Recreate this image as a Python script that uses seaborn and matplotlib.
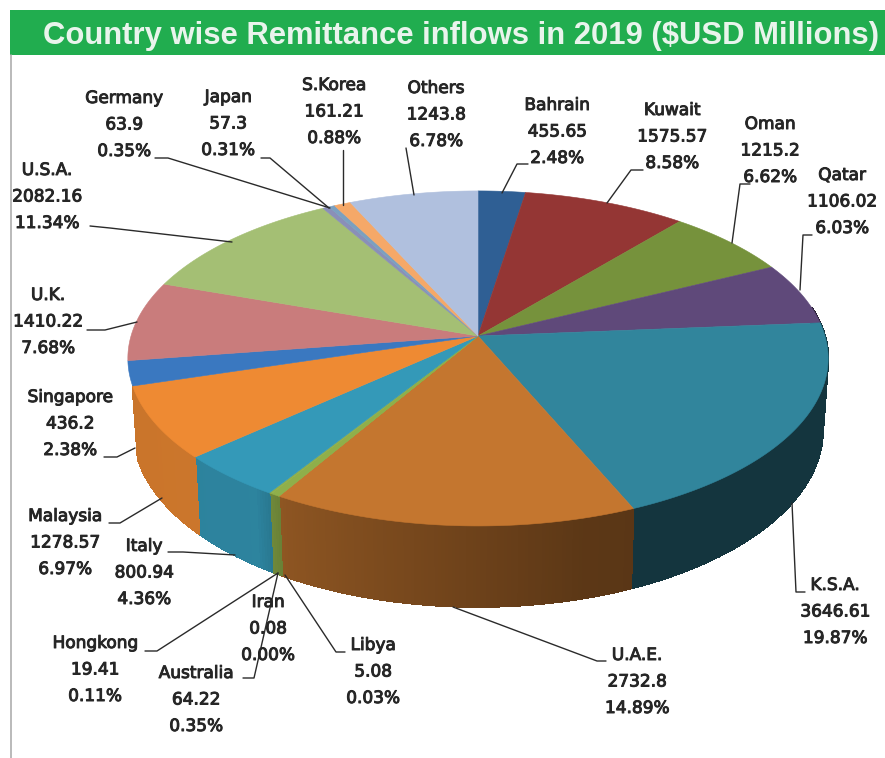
import numpy as np
import pandas as pd
import seaborn as sns
import matplotlib
matplotlib.use("Agg")
import matplotlib.pyplot as plt
import matplotlib.patheffects as pe
from matplotlib.patches import Polygon, Rectangle

countries = ["Bahrain", "Kuwait", "Oman", "Qatar", "K.S.A.", "U.A.E.", "Libya", "Iran",
             "Australia", "Hongkong", "Italy", "Malaysia", "Singapore", "U.K.", "U.S.A.",
             "Germany", "Japan", "S.Korea", "Others"]
values = [455.65, 1575.57, 1215.2, 1106.02, 3646.61, 2732.8, 5.08, 0.08,
          64.22, 19.41, 800.94, 1278.57, 436.2, 1410.22, 2082.16,
          63.9, 57.3, 161.21, 1243.8]
percents = [2.48, 8.58, 6.62, 6.03, 19.87, 14.89, 0.03, 0.00,
            0.35, 0.11, 4.36, 6.97, 2.38, 7.68, 11.34,
            0.35, 0.31, 0.88, 6.78]
colors = ["#2F5F94", "#943634", "#76923C", "#5F497A", "#31859C", "#C4762F", "#8FAF4A", "#8FAF4A",
          "#8FAF4A", "#8FAF4A", "#3499B8", "#EE8A33", "#3A78C0", "#C97C7C", "#A4BF74",
          "#8A8FB8", "#7BA0C0", "#F5A868", "#B0C0DE"]

sns.set_theme(style="white")
plt.rcParams["font.family"] = ["DejaVu Sans"]
palette = sns.color_palette(colors)
df = pd.DataFrame({"country": countries, "value": values, "pct": percents})

fig = plt.figure(figsize=(8.85, 7.58), dpi=100, facecolor="white")
ax = fig.add_axes([0, 0, 1, 1])
ax.set_xlim(0, 885)
ax.set_ylim(758, 0)
ax.axis("off")

# perspective projection of the pie disc
CX, CY, RX, RY, K = 478.0, 336.0, 347.0, 164.5, 0.134
DEPTH = 70.0


def top(theta):
    u, v = np.sin(theta), np.cos(theta)
    w = 1 + K * v
    return CX + RX * u / w, CY - RY * v / w


def bottom(theta):
    x, y = top(theta)
    w = 1 + K * np.cos(theta)
    return CX + (x - CX) * 0.985, y + DEPTH / w


def shade(theta):
    deg = np.degrees(theta)
    return np.interp(deg, [85, 156.8, 157, 165, 210, 215, 270], [0.40, 0.40, 0.46, 0.47, 0.72, 0.86, 0.84])


edges = np.concatenate([[0], np.cumsum(df["value"].to_numpy())]) / df["value"].sum() * 2 * np.pi
wall_end = edges[countries.index("Malaysia") + 1]

# side wall
for a, b, col in zip(edges[:-1], edges[1:], palette):
    lo, hi = max(a, np.radians(80)), min(b, wall_end)
    if hi <= lo:
        continue
    n = max(2, int(np.degrees(hi - lo)) * 2 + 2)
    th = np.linspace(lo, hi, n)
    for t0, t1 in zip(th[:-1], th[1:]):
        xt, yt = top(np.array([t0, t1]))
        xb, yb = bottom(np.array([t1, t0]))
        rgb = np.array(col) * shade((t0 + t1) / 2)
        ax.add_patch(Polygon(np.c_[np.r_[xt, xb], np.r_[yt, yb]], closed=True,
                             facecolor=rgb, edgecolor=rgb, lw=0.8, antialiased=False, zorder=2))

# top faces
for a, b, col in zip(edges[:-1], edges[1:], palette):
    th = np.linspace(a, b, max(3, int(np.degrees(b - a)) * 2 + 2))
    x, y = top(th)
    ax.add_patch(Polygon(np.c_[np.r_[CX, x], np.r_[CY, y]], closed=True,
                         facecolor=col, edgecolor=col, lw=0.4, zorder=3))

# header band and left rule
ax.add_patch(Rectangle((10, 10), 875, 45, facecolor="#21AD4F", edgecolor="none", zorder=1))
ax.plot([10.5, 10.5], [55, 758], color="#AEAEAE", lw=1.2, zorder=1)
ax.text(461, 36, "Country wise Remittance inflows in 2019 ($USD Millions)",
        ha="center", va="center", color="#E9F4EC", fontsize=22.3, fontweight="bold",
        family=["Liberation Sans", "DejaVu Sans"], zorder=5)

# label layout: centre x, first-line y
label_pos = {"Bahrain": (557, 105), "Kuwait": (672, 110), "Oman": (770, 124), "Qatar": (842, 175),
             "K.S.A.": (835, 585), "U.A.E.": (637, 655), "Libya": (373, 645), "Iran": (268, 602),
             "Australia": (196, 673), "Hongkong": (95, 643), "Italy": (144, 546),
             "Malaysia": (65, 516), "Singapore": (70, 397), "U.K.": (48, 295), "U.S.A.": (47, 170),
             "Germany": (124, 98), "Japan": (228, 97), "S.Korea": (334, 85), "Others": (436, 88)}
leaders = {"Bahrain": [(528, 164), (517, 164), (502, 193)],
           "Kuwait": [(643, 170), (631, 170), (607, 203)],
           "Oman": [(750, 184), (740, 184), (732, 243)],
           "Qatar": [(812, 235), (803, 235), (800, 290)],
           "K.S.A.": [(805, 592), (796, 592), (792, 503)],
           "U.A.E.": [(606, 661), (597, 661), (453, 607)],
           "Libya": [(345, 652), (336, 652), (285, 575)],
           "Australia": [(243, 678), (254, 678), (278, 573)],
           "Hongkong": [(145, 651), (157, 651), (278, 573)],
           "Italy": [(168, 552), (183, 552), (235, 555)],
           "Malaysia": [(109, 523), (120, 523), (162, 498)],
           "Singapore": [(104, 457), (117, 457), (135, 448)],
           "U.K.": [(87, 330), (105, 330), (137, 322)],
           "U.S.A.": [(90, 226), (110, 228), (232, 242)],
           "Germany": [(155, 158), (168, 158), (330, 208)],
           "Japan": [(261, 158), (270, 158), (329, 208)],
           "S.Korea": [(343, 150), (343, 205)],
           "Others": [(406, 148), (414, 195)]}

for name, pts in leaders.items():
    xs, ys = zip(*pts)
    ax.plot(xs, ys, color="#2A2A2A", lw=1.0, zorder=4)

LINE = 26.5
for name, val, pct in zip(countries, values, percents):
    x, y = label_pos[name]
    for i, s in enumerate([name, f"{val:g}", f"{pct:.2f}%"]):
        t = ax.text(x, y + i * LINE, s, ha="center", va="center", fontsize=12.2,
                    color="#262626", zorder=6)
        t.set_path_effects([pe.withStroke(linewidth=0.7, foreground="#262626")])

fig.savefig("out.png", dpi=100)
